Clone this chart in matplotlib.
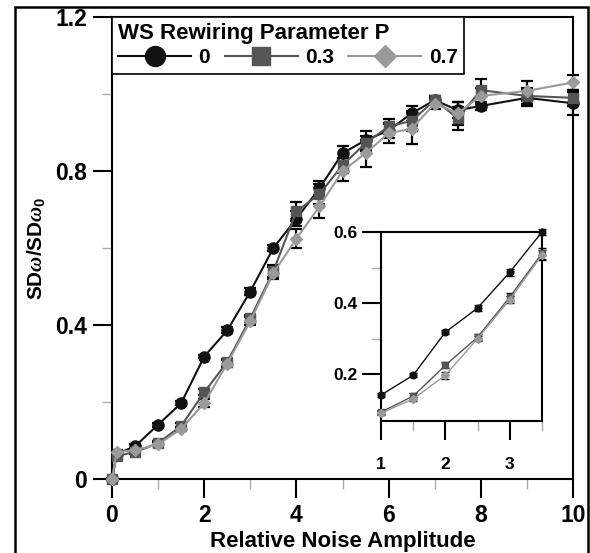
import matplotlib
matplotlib.use("Agg")
from matplotlib import pyplot as plt
from matplotlib.patches import Rectangle
import numpy as np

plt.rcParams['font.family'] = ['Liberation Sans', 'DejaVu Sans']
plt.rcParams['font.weight'] = 'bold'
plt.rcParams['mathtext.fontset'] = 'custom'
plt.rcParams['mathtext.rm'] = 'Liberation Sans:bold'
plt.rcParams['mathtext.it'] = 'Liberation Serif:italic'

# noise amplitude
x = [0, 0.1, 0.5, 1, 1.5, 2, 2.5, 3, 3.5, 4, 4.5, 5, 5.5, 6, 6.5, 7, 7.5, 8, 9, 10]

# SD ratio for rewiring p = 0, 0.3, 0.7
y_p0 = [0, 0.065, 0.085, 0.141, 0.197, 0.318, 0.386, 0.487, 0.600, 0.676, 0.755,
        0.846, 0.880, 0.905, 0.950, 0.984, 0.958, 0.969, 0.990, 0.976]
y_p3 = [0, 0.060, 0.070, 0.093, 0.138, 0.225, 0.304, 0.417, 0.540, 0.695, 0.740,
        0.815, 0.872, 0.916, 0.930, 0.984, 0.937, 1.010, 0.995, 0.990]
y_p7 = [0, 0.070, 0.075, 0.090, 0.130, 0.197, 0.300, 0.410, 0.535, 0.624, 0.708,
        0.800, 0.846, 0.898, 0.910, 0.975, 0.950, 0.995, 1.008, 1.030]

e_p0 = [0, 0.005, 0.005, 0.005, 0.005, 0.005, 0.008, 0.010, 0.008, 0.020, 0.020,
        0.020, 0.025, 0.020, 0.020, 0.010, 0.020, 0.010, 0.020, 0.030]
e_p3 = [0, 0.005, 0.005, 0.005, 0.008, 0.008, 0.008, 0.010, 0.015, 0.025, 0.025,
        0.020, 0.020, 0.020, 0.025, 0.010, 0.030, 0.030, 0.020, 0.020]
e_p7 = [0, 0.005, 0.005, 0.005, 0.005, 0.010, 0.008, 0.010, 0.015, 0.025, 0.030,
        0.025, 0.035, 0.025, 0.040, 0.015, 0.030, 0.020, 0.025, 0.020]

labels = ['0', '0.3', '0.7']
series = [(y_p0, e_p0), (y_p3, e_p3), (y_p7, e_p7)]
colors = ['#111111', '#555555', '#9a9a9a']
markers = ['o', 's', 'D']
msizes = [8, 7.5, 6.5]

# inset: zoom on 1..3.5
xi = [1, 1.5, 2, 2.5, 3, 3.5]

fig = plt.figure(figsize=(5.9, 5.53), dpi=100)
fig.patches.append(Rectangle((15/590, -0.01), 573/590, 1 - 7/553 + 0.01,
                             transform=fig.transFigure, fill=False,
                             edgecolor='black', linewidth=1.8))

ax = fig.add_axes([112/590, 1 - 479/553, 461/590, 462/553])
handles = []
for (ys, es), c, m, ms, lab in zip(series, colors, markers, msizes, labels):
    ax.errorbar(x, ys, yerr=es, fmt='none', ecolor='black', elinewidth=1.6,
                capsize=4, capthick=1.6, zorder=3, clip_on=False)
    h, = ax.plot(x, ys, color=c, marker=m, markersize=ms, linewidth=1.5,
                 markeredgecolor=c, zorder=4, clip_on=False, label=lab)
    handles.append(h)

ax.set_xlim(0, 10)
ax.set_ylim(0, 1.2)
ax.set_xticks([0, 2, 4, 6, 8, 10])
ax.set_xticks([1, 3, 5, 7, 9], minor=True)
ax.set_yticks([0, 0.4, 0.8, 1.2])
ax.set_yticklabels(['0', '0.4', '0.8', '1.2'])
ax.set_yticks([0.2, 0.6, 1.0], minor=True)
ax.tick_params(which='major', direction='out', length=14, width=1.5,
               labelsize=16.5, pad=4)
ax.tick_params(which='minor', direction='out', length=7, width=1,
               color='#aaaaaa')
for s in ax.spines.values():
    s.set_linewidth(1.5)
ax.set_xlabel('Relative Noise Amplitude', fontsize=16, fontweight='bold',
              labelpad=3)
ax.set_ylabel(r'SD$\omega$/SD$\omega_0$', fontsize=15, fontweight='bold',
              labelpad=6)

leg = ax.legend(handles=handles, ncol=3, loc='upper left',
                bbox_to_anchor=(0, 1), borderaxespad=0, frameon=True,
                fancybox=False, edgecolor='black', framealpha=1,
                title='WS Rewiring Parameter P', alignment='left',
                title_fontproperties={'weight': 'bold', 'size': 16},
                prop={'weight': 'bold', 'size': 15}, markerscale=1.8,
                handlelength=3.5, columnspacing=0.7, handletextpad=0.35,
                borderpad=0.3, labelspacing=0.2)
leg.get_frame().set_linewidth(1.2)

# inset
axi = fig.add_axes([381/590, 1 - 421/553, 161/590, 189/553])
for (ys, es), c, m, ms in zip(series, colors, markers, msizes):
    yv = [ys[x.index(v)] for v in xi]
    ev = [es[x.index(v)] for v in xi]
    axi.errorbar(xi, yv, yerr=ev, fmt='none', ecolor='black', elinewidth=1,
                 capsize=3, capthick=1, zorder=3, clip_on=False)
    axi.plot(xi, yv, color=c, marker=m, markersize=ms * 0.6, linewidth=1,
             markeredgecolor=c, zorder=4, clip_on=False)

axi.set_xlim(1, 3.5)
axi.set_ylim(0.068, 0.6)
axi.set_xticks([1, 2, 3])
axi.set_xticks([1.5, 2.5, 3.5], minor=True)
axi.set_yticks([0.2, 0.4, 0.6])
axi.set_yticks([0.3, 0.5], minor=True)
axi.tick_params(which='major', direction='out', length=14, width=1.5,
                labelsize=12.5, pad=12)
axi.tick_params(axis='y', which='major', pad=3)
axi.tick_params(which='minor', direction='out', length=7, width=1,
                color='#aaaaaa')
for s in axi.spines.values():
    s.set_linewidth(1.5)

fig.savefig('out.png', dpi=100)
